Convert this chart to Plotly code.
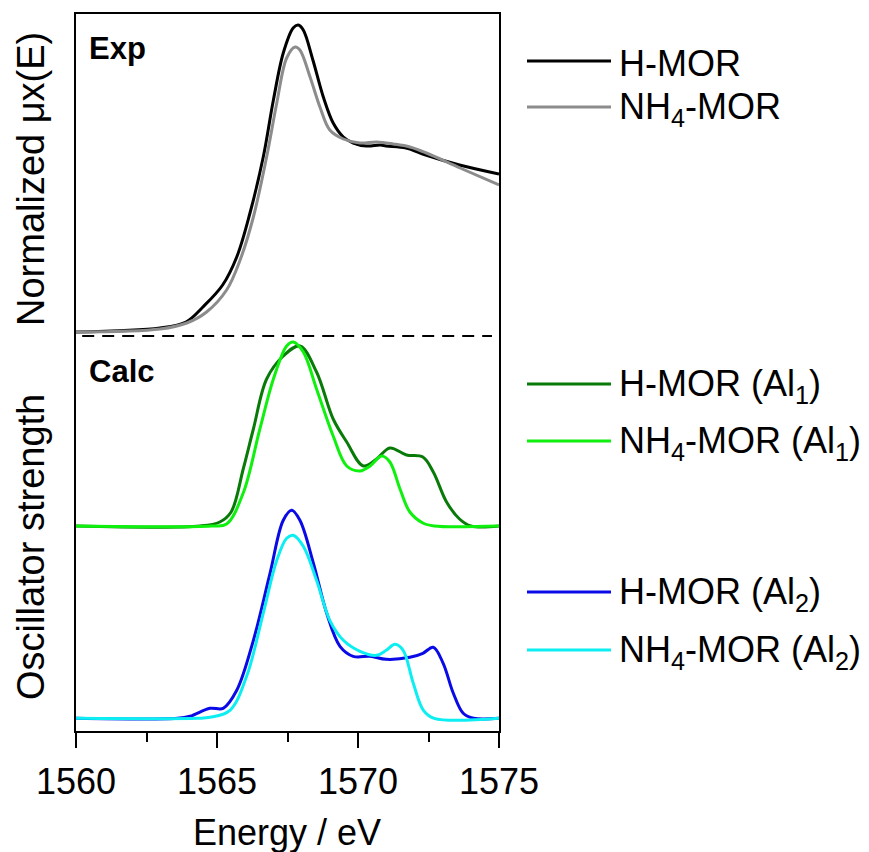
import plotly.graph_objects as go

# ---------------- data ----------------
# Experimental XANES (normalized, arbitrary units above baseline)
exp_h_E = [1560, 1562.98, 1563.9, 1564.5, 1565.2, 1565.7, 1566.17, 1566.64, 1567.0, 1567.35,
           1567.7, 1567.88, 1568.06, 1568.4, 1568.77, 1569.12, 1569.48, 1569.83, 1570.3,
           1570.8, 1571.0, 1571.7, 1572.4, 1573.6, 1575]
exp_h_I = [0.0, 0.04, 0.10, 0.25, 0.47, 0.75, 1.19, 1.75, 2.32, 2.79,
           3.04, 3.07, 3.02, 2.72, 2.35, 2.09, 1.95, 1.89, 1.86,
           1.87, 1.86, 1.84, 1.77, 1.67, 1.58]

exp_nh4_E = [1560, 1562.98, 1563.93, 1564.63, 1565.34, 1565.82, 1566.29, 1566.76, 1567.12,
             1567.47, 1567.77, 1567.94, 1568.3, 1568.65, 1569.0, 1569.48, 1570.07, 1570.66,
             1571.25, 1571.84, 1572.43, 1573.62, 1575]
exp_nh4_I = [0.0, 0.03, 0.09, 0.20, 0.42, 0.72, 1.15, 1.75, 2.29,
             2.74, 2.85, 2.82, 2.55, 2.25, 2.02, 1.93, 1.89, 1.90,
             1.88, 1.85, 1.79, 1.64, 1.47]

# Calculated spectra, Al1 site
al1_h_E = [1560, 1564.4, 1565.1, 1565.5, 1565.93, 1566.29, 1566.76, 1567.35, 1567.94,
           1568.53, 1569.12, 1569.6, 1570.19, 1570.66, 1571.13, 1571.72, 1572.3,
           1572.67, 1573.14, 1573.6, 1574.0, 1575]
al1_h_I = [0.0, 0.0, 0.04, 0.14, 0.57, 0.97, 1.47, 1.70, 1.80,
           1.54, 1.07, 0.84, 0.60, 0.67, 0.78, 0.71, 0.69,
           0.54, 0.24, 0.07, 0.0, 0.0]

al1_nh4_E = [1560, 1564.8, 1565.34, 1565.93, 1566.52, 1567.0, 1567.47, 1567.7, 1568.06, 1568.53,
             1569.12, 1569.6, 1570.07, 1570.43, 1570.84, 1571.13, 1571.49, 1571.84,
             1572.3, 1572.7, 1575]
al1_nh4_I = [0.0, 0.0, 0.02, 0.33, 0.97, 1.47, 1.80, 1.84, 1.74, 1.37,
             0.90, 0.60, 0.55, 0.60, 0.70, 0.64, 0.37, 0.14,
             0.03, 0.0, 0.0]

# Calculated spectra, Al2 site
al2_h_E = [1560, 1563.6, 1564.04, 1564.75, 1565.22, 1565.7, 1566.29, 1566.88, 1567.35, 1567.65,
           1567.94, 1568.42, 1568.89, 1569.36, 1569.83, 1570.43, 1571.0, 1571.84, 1572.3,
           1572.67, 1573.02, 1573.38, 1573.73, 1574.1, 1575]
al2_h_I = [0.0, 0.0, 0.02, 0.10, 0.10, 0.28, 0.78, 1.45, 1.98, 2.08,
           1.98, 1.55, 1.05, 0.72, 0.62, 0.62, 0.59, 0.61, 0.65,
           0.71, 0.55, 0.25, 0.05, 0.0, 0.0]

al2_nh4_E = [1560, 1564.3, 1564.75, 1565.46, 1566.05, 1566.64, 1567.12, 1567.47, 1567.7, 1568.06,
             1568.53, 1569.0, 1569.48, 1570.07, 1570.66, 1571.0, 1571.31, 1571.6, 1571.96,
             1572.32, 1572.7, 1575]
al2_nh4_I = [0.0, 0.0, 0.01, 0.08, 0.42, 1.05, 1.58, 1.80, 1.83, 1.72,
             1.38, 0.98, 0.78, 0.67, 0.63, 0.68, 0.74, 0.68, 0.35,
             0.08, 0.0, 0.0]

# vertical offsets of the stacked spectra
off_exp = 3.99
off_al1 = 2.05
off_al2 = 0.127
sep_y = 3.95

x_ticks = [1560, 1565, 1570, 1575]

series = [
    ("H-MOR", exp_h_E, exp_h_I, off_exp, "#000000"),
    ("NH<sub>4</sub>-MOR", exp_nh4_E, exp_nh4_I, off_exp, "#8c8c8c"),
    ("H-MOR (Al<sub>1</sub>)", al1_h_E, al1_h_I, off_al1, "#087a08"),
    ("NH<sub>4</sub>-MOR (Al<sub>1</sub>)", al1_nh4_E, al1_nh4_I, off_al1, "#0ff00f"),
    ("H-MOR (Al<sub>2</sub>)", al2_h_E, al2_h_I, off_al2, "#0a0ae6"),
    ("NH<sub>4</sub>-MOR (Al<sub>2</sub>)", al2_nh4_E, al2_nh4_I, off_al2, "#0ceef2"),
]
legend_px_y = [61, 107, 384, 441, 592, 650]

# ---------------- figure ----------------
L, R, T, B = 76, 499, 14, 731
W, H = 869, 852
pw, ph = R - L, B - T

fig = go.Figure()
for name, E, I, off, col in series:
    fig.add_trace(go.Scatter(
        x=E, y=[v + off for v in I], mode="lines", name=name,
        line=dict(color=col, width=3, shape="spline", smoothing=1.0),
        showlegend=False, hoverinfo="skip"))

FONT = "Liberation Sans, Arial, sans-serif"

fig.update_layout(
    width=W, height=H,
    margin=dict(l=L, r=W - R, t=T, b=H - B, autoexpand=False),
    paper_bgcolor="white", plot_bgcolor="white",
    font=dict(family=FONT, size=35, color="black"),
    xaxis=dict(
        range=[1560, 1575], tickvals=x_ticks, ticktext=[str(t) for t in x_ticks],
        ticks="outside", ticklen=15, tickwidth=2, tickcolor="black",
        minor=dict(dtick=2.5, tick0=1560, ticks="outside", ticklen=9, tickwidth=2, tickcolor="black"),
        showline=True, linewidth=2, linecolor="black", mirror=True,
        showgrid=False, zeroline=False, automargin=False,
        tickfont=dict(size=36), ticklabelstandoff=3,
    ),
    yaxis=dict(
        range=[0, ph / 100.0], showticklabels=False, ticks="",
        showline=True, linewidth=2, linecolor="black", mirror=True,
        showgrid=False, zeroline=False, automargin=False,
    ),
)

# dashed separator
fig.add_shape(type="line", xref="x", yref="y", x0=1560.22, x1=1574.75, y0=sep_y, y1=sep_y,
              line=dict(color="black", width=2, dash="12px,8px"))

def px_x(p):
    return (p - L) / pw

def px_y(p):
    return (B - p) / ph

# x-axis title
fig.add_annotation(text="Energy / eV", x=px_x(287), y=px_y(832), xref="paper", yref="paper",
                   xanchor="center", yanchor="middle", showarrow=False, font=dict(size=36))

# panel labels
fig.add_annotation(text="<b>Exp</b>", x=px_x(87), y=px_y(48), xref="paper", yref="paper",
                   xanchor="left", yanchor="middle", showarrow=False, font=dict(size=31))
fig.add_annotation(text="<b>Calc</b>", x=px_x(87), y=px_y(371), xref="paper", yref="paper",
                   xanchor="left", yanchor="middle", showarrow=False, font=dict(size=31))

# y-axis titles
fig.add_annotation(text="Normalized \u03bcx(E)", x=px_x(31), y=px_y(179), xref="paper", yref="paper",
                   xanchor="center", yanchor="middle", textangle=-90, showarrow=False,
                   font=dict(size=38))
fig.add_annotation(text="Oscillator strength", x=px_x(31), y=px_y(547), xref="paper", yref="paper",
                   xanchor="center", yanchor="middle", textangle=-90, showarrow=False,
                   font=dict(size=38))

# custom legend
for (name, E, I, off, col), ly in zip(series, legend_px_y):
    fig.add_shape(type="line", xref="paper", yref="paper",
                  x0=px_x(527), x1=px_x(611), y0=px_y(ly), y1=px_y(ly),
                  line=dict(color=col, width=3))
    fig.add_annotation(text=name, x=px_x(617), y=px_y(ly + 2), xref="paper", yref="paper",
                       xanchor="left", yanchor="middle", showarrow=False, font=dict(size=36))

fig.write_html("out.html")
